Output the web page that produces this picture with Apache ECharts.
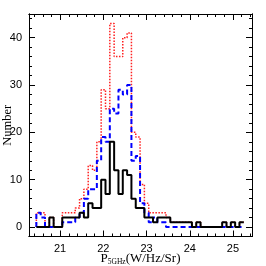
<!DOCTYPE html>
<html><head><meta charset="utf-8">
<script src="https://cdn.jsdelivr.net/npm/echarts@6/dist/echarts.min.js"></script>
<style>html,body{margin:0;padding:0;background:#fff}#c{width:266px;height:266px}</style>
</head><body><div id="c"></div>
<script>
// bin centres (log P_5GHz), bin width 0.1
const binCenters = [20.5,20.6,20.7,20.8,20.9,21.0,21.1,21.2,21.3,21.4,21.5,21.6,21.7,21.8,21.9,22.0,22.1,22.2,22.3,22.4,22.5,22.6,22.7,22.8,22.9,23.0,23.1,23.2,23.3,23.4,23.5,23.6,23.7,23.8,23.9,24.0,24.1,24.2,24.3,24.4,24.5,24.6,24.7,24.8,24.9,25.0,25.1,25.2];
const binWidth = 0.1;
const redCounts   = [3,3,0,2,0,0,3,3,3,4,6,8,13,12,18,29,25,43,36,36,40,41,20,19,9,5,3,3,3,3,2,1,1,1,1,1,0,1,0,0,0,0,0,1,0,1,0,1];
const blueCounts  = [3,2,0,0,0,0,1,1,1,2,3,6,8,8,14,19,18,25,24,29,28,30,14,15,5,3,1,2,1,1,0,0,0,0,0,0,0,0,0,0,0,0,0,0,0,0,0,0];
const blackCounts = [0,0,0,2,0,0,2,2,2,2,3,2,5,4,4,10,7,18,12,7,12,11,6,4,4,2,2,1,2,2,2,1,1,1,1,1,0,1,0,0,0,0,0,1,0,1,0,1];
const xTickLabels = [21,22,23,24,25];
const yTickLabels = [0,10,20,30,40];
const xMinorTicks = [20.4,20.6,20.8,21,21.2,21.4,21.6,21.8,22,22.2,22.4,22.6,22.8,23,23.2,23.4,23.6,23.8,24,24.2,24.4,24.6,24.8,25,25.2,25.4];
const yMinorTicks = [-2,0,2,4,6,8,10,12,14,16,18,20,22,24,26,28,30,32,34,36,38,40,42,44];

function stepData(counts){
  const pts = [[binCenters[0]-binWidth/2, 0]];
  counts.forEach((c,i)=>pts.push([+(binCenters[i]-binWidth/2).toFixed(3), c]));
  pts.push([+(binCenters[binCenters.length-1]+binWidth/2).toFixed(3), counts[counts.length-1]]);
  return pts;
}

const X_MIN = 20.28, X_MAX = 25.44, Y_MIN = -2, Y_MAX = 45;
const lineStyle = {color:'#000', width:1};
function xAx(pos, vals, len, labels){
  return {type:'value', min:X_MIN, max:X_MAX, position:pos,
    axisLine:{show:true, onZero:false, lineStyle},
    axisTick:{show:true, inside:true, length:len, customValues:vals, lineStyle},
    axisLabel: labels ? {show:true, customValues:vals, color:'#000', fontSize:11, fontFamily:'Liberation Sans', margin:7} : {show:false},
    splitLine:{show:false}};
}
function yAx(pos, vals, len, labels){
  return {type:'value', min:Y_MIN, max:Y_MAX, position:pos,
    axisLine:{show:true, onZero:false, lineStyle},
    axisTick:{show:true, inside:true, length:len, customValues:vals, lineStyle},
    axisLabel: labels ? {show:true, customValues:vals, color:'#000', fontSize:11, fontFamily:'Liberation Sans', margin:7} : {show:false},
    splitLine:{show:false}};
}
const xMain = xAx('bottom', xTickLabels, 6, true);
xMain.name = '{a|P}{b|5GHz}{a|(W/Hz/Sr)}';
xMain.nameLocation = 'middle';
xMain.nameGap = 15;
xMain.nameMoveOverlap = false;
xMain.nameTextStyle = {rich:{
  a:{fontFamily:'Liberation Serif', fontSize:13, color:'#000'},
  b:{fontFamily:'Liberation Serif', fontSize:7.5, color:'#000', verticalAlign:'bottom', padding:[7,0,0,0]}
}};
const yMain = yAx('left', yTickLabels, 6, true);
yMain.name = 'Number';
yMain.nameLocation = 'middle';
yMain.nameGap = 14.5;
yMain.nameMoveOverlap = false;
yMain.nameTextStyle = {fontFamily:'Liberation Serif', fontSize:12.5, color:'#000'};

const option = {
  animation:false,
  backgroundColor:'#fff',
  grid:{left:29, right:14, top:14, bottom:29.5, containLabel:false, outerBoundsMode:'none'},
  xAxis:[xMain, xAx('bottom', xMinorTicks, 3, false), xAx('top', xTickLabels, 6, false), xAx('top', xMinorTicks, 3, false)],
  yAxis:[yMain, yAx('left', yMinorTicks, 3, false), yAx('right', yTickLabels, 6, false), yAx('right', yMinorTicks, 3, false)],
  series:[
    {type:'line', step:'end', data:stepData(redCounts), symbol:'none', xAxisIndex:0, yAxisIndex:0,
     lineStyle:{color:'#ff2020', width:1.5, type:[1.5,1.5]}},
    {type:'line', step:'end', data:stepData(blueCounts), symbol:'none', xAxisIndex:0, yAxisIndex:0,
     lineStyle:{color:'#0000ff', width:2, type:[5,3]}},
    {type:'line', step:'end', data:stepData(blackCounts), symbol:'none', xAxisIndex:0, yAxisIndex:0,
     lineStyle:{color:'#000', width:2}}
  ]
};
const chart = echarts.init(document.getElementById('c'), null, {renderer:'canvas'});
chart.setOption(option);
</script></body></html>
